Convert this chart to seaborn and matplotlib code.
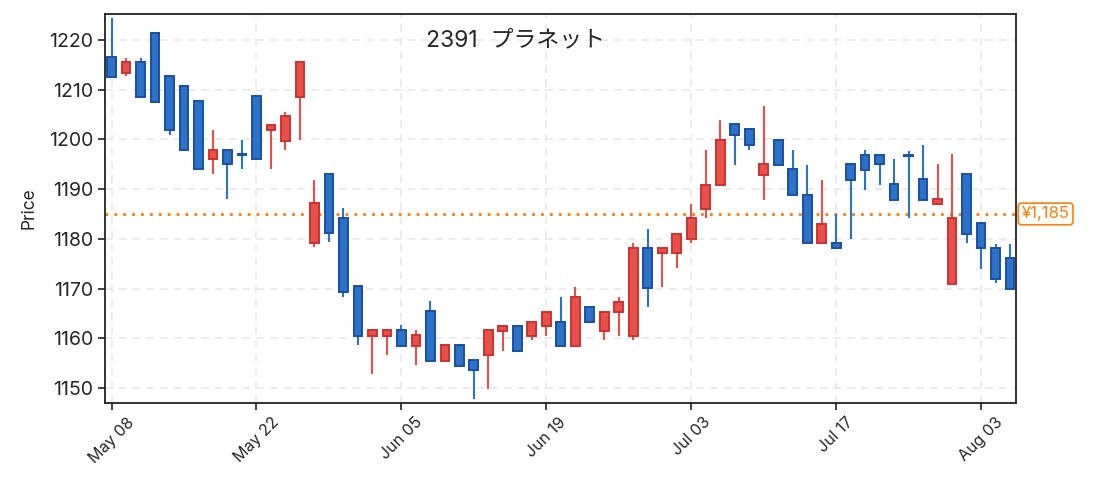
import matplotlib
matplotlib.use("Agg")
import matplotlib.pyplot as plt
import seaborn as sns
import numpy as np
import pandas as pd

# daily OHLC for 2391
opens = [1216.5, 1213.4, 1215.5, 1221.3, 1212.7, 1210.7, 1207.7, 1196.0, 1197.9, 1197.0,
         1208.7, 1201.8, 1199.7, 1208.6, 1179.2, 1193.0, 1184.1, 1170.5, 1160.5, 1160.5,
         1161.6, 1158.5, 1165.5, 1155.5, 1158.6, 1155.6, 1156.6, 1161.4, 1162.5, 1160.4,
         1162.5, 1163.3, 1158.4, 1166.3, 1161.4, 1165.3, 1160.4, 1178.2, 1177.1, 1177.1,
         1179.9, 1185.9, 1190.8, 1203.0, 1202.0, 1192.9, 1199.9, 1194.0, 1188.9, 1179.1,
         1179.2, 1195.0, 1196.8, 1196.9, 1191.0, 1196.9, 1192.0, 1187.1, 1170.9, 1193.0,
         1183.1, 1178.1, 1176.1]
closes = [1212.6, 1215.5, 1208.6, 1207.6, 1201.8, 1197.8, 1194.0, 1197.9, 1195.0, 1196.8,
          1196.0, 1202.9, 1204.7, 1215.5, 1187.2, 1181.1, 1169.4, 1160.5, 1161.6, 1161.6,
          1158.5, 1160.6, 1155.5, 1158.6, 1154.5, 1153.7, 1161.6, 1162.5, 1157.4, 1163.3,
          1165.3, 1158.4, 1168.3, 1163.3, 1165.3, 1167.3, 1178.2, 1170.2, 1178.2, 1181.0,
          1184.1, 1190.9, 1199.9, 1200.8, 1198.8, 1195.1, 1194.9, 1188.9, 1179.1, 1183.0,
          1178.1, 1191.8, 1193.9, 1195.0, 1187.9, 1196.7, 1187.9, 1188.0, 1184.1, 1181.0,
          1178.1, 1172.0, 1169.9]
highs = [1224.3, 1216.3, 1216.4, 1221.3, 1212.7, 1210.7, 1207.7, 1201.8, 1197.9, 1199.8,
         1208.7, 1202.9, 1205.6, 1215.5, 1191.9, 1193.0, 1186.1, 1170.5, 1161.6, 1161.6,
         1162.6, 1161.6, 1167.4, 1158.6, 1158.6, 1155.6, 1161.6, 1162.5, 1162.5, 1163.3,
         1165.3, 1168.3, 1170.3, 1166.3, 1165.3, 1168.3, 1179.1, 1181.9, 1178.2, 1181.0,
         1187.0, 1197.8, 1203.9, 1203.0, 1202.0, 1206.7, 1199.9, 1197.8, 1194.9, 1191.9,
         1184.9, 1195.0, 1197.8, 1196.9, 1196.0, 1197.7, 1198.8, 1195.0, 1197.0, 1193.0,
         1183.1, 1179.0, 1179.0]
lows = [1212.5, 1212.7, 1208.6, 1207.6, 1200.9, 1197.8, 1194.0, 1193.1, 1188.1, 1194.0,
        1196.0, 1194.0, 1197.8, 1199.9, 1178.3, 1179.3, 1168.4, 1158.6, 1152.8, 1156.6,
        1158.5, 1154.6, 1155.5, 1155.5, 1154.5, 1147.8, 1149.8, 1157.5, 1157.4, 1159.6,
        1160.5, 1158.4, 1158.4, 1163.3, 1159.6, 1160.5, 1159.6, 1166.3, 1170.4, 1174.2,
        1179.2, 1184.1, 1190.8, 1194.9, 1197.8, 1187.9, 1194.9, 1188.9, 1179.1, 1179.1,
        1178.1, 1180.0, 1189.9, 1190.9, 1187.9, 1184.1, 1187.9, 1187.1, 1170.9, 1179.1,
        1174.0, 1171.1, 1169.9]
tick_labels = ["May 08", "May 22", "Jun 05", "Jun 19", "Jul 03", "Jul 17", "Aug 03"]
ref_price = 1185

df = pd.DataFrame({"open": opens, "high": highs, "low": lows, "close": closes})
df["x"] = np.arange(len(df))
df["up"] = df["close"] >= df["open"]

sns.set_style("white")
plt.rcParams["font.family"] = ["Inter", "Noto Sans CJK JP", "DejaVu Sans"]

fig = plt.figure(figsize=(10.95, 4.92), dpi=100)
ax = fig.add_axes([0.0959, 0.181, 0.8321, 0.7905])

up_face, up_edge = "#e8504a", "#cc3232"
dn_face, dn_edge = "#2b72c8", "#1a50a2"
faces = np.where(df["up"], up_face, dn_face)
edges = np.where(df["up"], up_edge, dn_edge)

# wicks
ax.vlines(df["x"], df["low"], df["high"], colors=faces, linewidth=1.5, zorder=2)

# bodies
bottom = df[["open", "close"]].min(axis=1)
height = (df["close"] - df["open"]).abs().clip(lower=0.15)
ax.bar(df["x"], height, bottom=bottom, width=0.6, color=faces,
       edgecolor=edges, linewidth=1.4, zorder=3)

# reference line
ax.axhline(ref_price, color="#ff7f0e", linestyle=(0, (1, 2.2)), linewidth=2, zorder=1)
ax.text(1.006, ref_price, f"¥{ref_price:,}", transform=ax.get_yaxis_transform(),
        ha="left", va="center", fontsize=12, color="#ff7f0e",
        bbox=dict(boxstyle="round,pad=0.2", fc="white", ec="#ff7f0e", lw=1.2))

ax.set_xlim(-0.45, 62.42)
ax.set_ylim(1147.0, 1225.2)
ax.set_yticks(np.arange(1150, 1221, 10))
ax.set_xticks(np.arange(0, len(df), 10))
ax.set_xticklabels(tick_labels, rotation=45, fontsize=11.5)
ax.tick_params(axis="y", labelsize=14)
ax.tick_params(direction="out", length=5, width=1.2, color="#222222", left=True, bottom=True)
ax.grid(True, linestyle=(0, (5, 4)), color="#e6e6e6", linewidth=1.1)
ax.set_axisbelow(True)
for s in ax.spines.values():
    s.set_color("#222222")
    s.set_linewidth(1.3)

ax.set_ylabel("Price", fontsize=12.5, labelpad=8)
ax.text(0.451, 0.933, "2391  プラネット", transform=ax.transAxes,
        ha="center", va="center", fontsize=16.5)

fig.savefig("out.png", dpi=100)
